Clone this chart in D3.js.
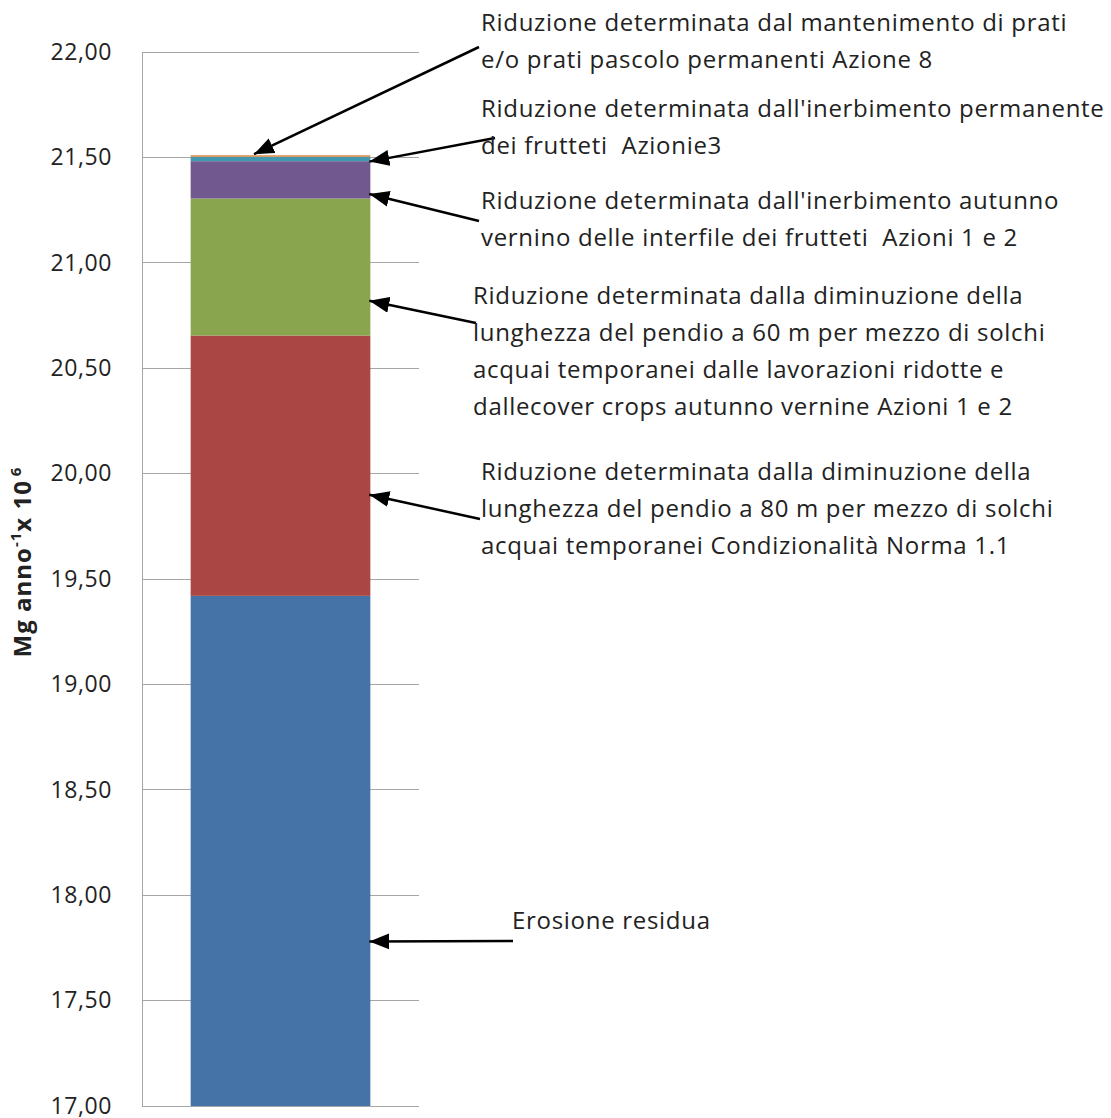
<!DOCTYPE html>
<html>
<head>
<meta charset="utf-8">
<script src="https://cdn.jsdelivr.net/npm/d3@7"></script>
<style>
  html, body { margin: 0; padding: 0; background: #fff; }
  svg { display: block; }
  text { font-family: "Open Sans", Lato, sans-serif; fill: #222; }
  .ann { white-space: pre; }
</style>
</head>
<body>
<svg id="chart" width="1111" height="1118"></svg>
<script>
// ---- data ----
const category = ["Totale"];
const seriesNames = [
  "Erosione residua",
  "Condizionalità Norma 1.1",
  "Azioni 1 e 2 (pendio 60 m, cover crops)",
  "Azioni 1 e 2 (inerbimento autunno vernino)",
  "Azione 3 (inerbimento permanente)",
  "Azione 8 (prati permanenti)"
];
const seriesValues = [19.42, 1.235, 0.65, 0.177, 0.021, 0.007];
const seriesColors = ["#4572A7", "#AA4643", "#89A54E", "#71588F", "#4198AF", "#DB843D"];
const yTicks = [17, 17.5, 18, 18.5, 19, 19.5, 20, 20.5, 21, 21.5, 22];
const yDomain = [17, 22];

// annotation texts (series index they point to, lines, target value on bar)
const annotations = [
  { series: 5, target: 21.515, lines: ["Riduzione determinata dal mantenimento di prati", "e/o prati pascolo permanenti Azione 8"] },
  { series: 4, target: 21.48, lines: ["Riduzione determinata dall'inerbimento permanente", "dei frutteti  Azionie3"] },
  { series: 3, target: 21.326, lines: ["Riduzione determinata dall'inerbimento autunno", "vernino delle interfile dei frutteti  Azioni 1 e 2"] },
  { series: 2, target: 20.82, lines: ["Riduzione determinata dalla diminuzione della", "lunghezza del pendio a 60 m per mezzo di solchi", "acquai temporanei dalle lavorazioni ridotte e", "dallecover crops autunno vernine Azioni 1 e 2"] },
  { series: 1, target: 19.90, lines: ["Riduzione determinata dalla diminuzione della", "lunghezza del pendio a 80 m per mezzo di solchi", "acquai temporanei Condizionalità Norma 1.1"] },
  { series: 0, target: 17.78, lines: ["Erosione residua"] }
];
// layout of annotation blocks (pixels)
const annLayout = [
  { x: 481, y: 31, tipX: 254, fromX: 479, fromY: 47 },
  { x: 481, y: 117, tipX: null, fromX: 495, fromY: 138 },
  { x: 481, y: 209, tipX: null, fromX: 479, fromY: 221 },
  { x: 473, y: 304, tipX: null, fromX: 476, fromY: 323 },
  { x: 481, y: 480, tipX: null, fromX: 480, fromY: 519 },
  { x: 512, y: 929, tipX: null, fromX: 513, fromY: 941 }
];

// ---- chart ----
const svg = d3.select("#chart");
const margin = { left: 142, top: 52, right: 1111 - 419, bottom: 1118 - 1106 };
const W = 1111 - margin.left - margin.right;
const H = 1118 - margin.top - margin.bottom;

const x = d3.scaleBand().domain(category).range([0, W]).paddingInner(0.35).paddingOuter(0.176);
const y = d3.scaleLinear().domain(yDomain).range([H, 0]);

const g = svg.append("g").attr("transform", `translate(${margin.left},${margin.top})`);

// gridlines
g.append("g").selectAll("line").data(yTicks).join("line")
  .attr("x1", 0).attr("x2", W)
  .attr("y1", d => y(d)).attr("y2", d => y(d))
  .attr("stroke", "#a6a6a6").attr("stroke-width", 1).attr("shape-rendering", "crispEdges");

// y axis
const yAxis = d3.axisLeft(y).tickValues(yTicks)
  .tickFormat(d => d3.format(".2f")(d).replace(".", ","))
  .tickSize(0).tickPadding(30);
const ga = g.append("g").call(yAxis);
ga.select(".domain").attr("stroke", "#a6a6a6").attr("shape-rendering", "crispEdges");
ga.selectAll("text").style("font-size", "23px").style("letter-spacing", "0.6px").attr("fill", "#222")
  .style("font-family", "'Open Sans', Lato, sans-serif");

// stacked bar
const row = { cat: category[0] };
seriesValues.forEach((v, i) => row["s" + i] = v);
const keys = seriesValues.map((_, i) => "s" + i);
const stack = d3.stack().keys(keys)([row]);
g.append("g").selectAll("rect").data(stack).join("rect")
  .attr("x", x(category[0]))
  .attr("width", x.bandwidth())
  .attr("y", d => y(d[0][1]))
  .attr("height", d => y(Math.max(d[0][0], yDomain[0])) - y(d[0][1]))
  .attr("fill", (d, i) => seriesColors[i]);

// arrow marker
const defs = svg.append("defs");
defs.append("marker").attr("id", "ah")
  .attr("markerUnits", "userSpaceOnUse")
  .attr("viewBox", "0 0 20 16").attr("refX", 0).attr("refY", 8)
  .attr("markerWidth", 20).attr("markerHeight", 16).attr("orient", "auto")
  .append("path").attr("d", "M0,8 L20,0 L20,16 Z").attr("fill", "#000");

// annotations
const barRight = margin.left + x(category[0]) + x.bandwidth() - 1;
annotations.forEach((a, i) => {
  const L = annLayout[i];
  const tipX = L.tipX != null ? L.tipX : barRight;
  const tipY = margin.top + y(a.target);
  svg.append("line")
    .attr("x1", tipX).attr("y1", tipY)
    .attr("x2", L.fromX).attr("y2", L.fromY)
    .attr("stroke", "#000").attr("stroke-width", 2.5)
    .attr("marker-start", "url(#ah)");
  const t = svg.append("text").attr("class", "ann").attr("x", L.x).attr("y", L.y)
    .style("font-size", "24px").style("letter-spacing", "0.7px");
  a.lines.forEach((ln, k) => {
    t.append("tspan").attr("x", L.x).attr("dy", k === 0 ? 0 : 37).text(ln);
  });
});

// y axis title
const yt = svg.append("text")
  .attr("transform", `translate(31,562) rotate(-90)`)
  .attr("text-anchor", "middle")
  .style("font-size", "24px").style("font-weight", "bold").style("letter-spacing", "1px");
yt.append("tspan").text("Mg anno");
yt.append("tspan").attr("dy", -10).style("font-size", "15px").text("-1");
yt.append("tspan").attr("dy", 10).text("x 10");
yt.append("tspan").attr("dx", 4).attr("dy", -10).style("font-size", "15px").text("6");
</script>
</body>
</html>
